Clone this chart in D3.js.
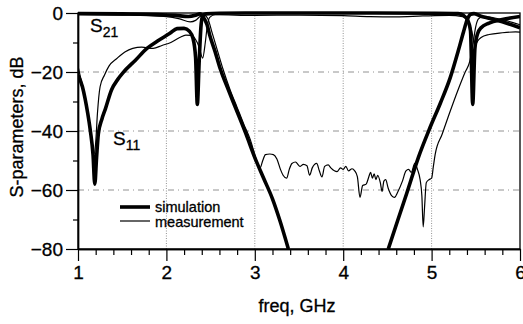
<!DOCTYPE html>
<html><head><meta charset="utf-8">
<script src="https://cdn.jsdelivr.net/npm/d3@7"></script>
<style>body{margin:0;background:#fff}text{font-family:"Liberation Sans",Arial,sans-serif;fill:#000;stroke:#000;stroke-width:0.3px}</style>
</head><body><svg id="c" width="523" height="324"></svg>
<script>
const xTicks=[1,2,3,4,5,6];
const xMinor=[1.2,1.4,1.6,1.8,2.2,2.4,2.6,2.8,3.2,3.4,3.6,3.8,4.2,4.4,4.6,4.8,5.2,5.4,5.6,5.8];
const yTicks=[0,-20,-40,-60,-80];
const yMinor=[-10,-30,-50,-70];
const xGrid=[2,3,4,5];
const yGrid=[-20,-40,-60];

const s11Sim=[[1.0,-21],[1.05,-25],[1.08,-29],[1.11,-34],[1.14,-40],[1.17,-48],[1.19,-58],[1.21,-49],[1.23,-41],[1.27,-36],[1.31,-32.5],[1.38,-26],[1.45,-22.5],[1.51,-20.2],[1.65,-16],[1.78,-12],[1.9,-9.5],[2.04,-6.9],[2.12,-5.3],[2.2,-5.2],[2.26,-6.2],[2.3,-8.5],[2.33,-15],[2.35,-31],[2.37,-17],[2.39,-5],[2.41,-1],[2.45,-0.3],[2.6,-0.1],[3.0,0],[4.0,0],[5.0,-0.1],[5.3,-0.2],[5.36,-0.8],[5.41,-2.5],[5.44,-6],[5.465,-31],[5.49,-12],[5.52,-7],[5.56,-5],[5.65,-3.4],[5.8,-2.2],[6.0,-1.2]];

const s11Meas=[[1.0,-18],[1.03,-22],[1.07,-27],[1.11,-34],[1.15,-42],[1.18,-48],[1.2,-44],[1.22,-34],[1.25,-25],[1.30,-21],[1.35,-18],[1.44,-15.4],[1.53,-13.2],[1.62,-12],[1.72,-11.6],[1.85,-12],[1.95,-11],[2.05,-10],[2.15,-8.3],[2.22,-7.5],[2.28,-7.6],[2.33,-9],[2.37,-11.5],[2.41,-15.3],[2.44,-10],[2.46,-5],[2.49,-1.5],[2.55,-0.6],[3.0,-0.8],[3.5,-0.7],[4.0,-0.9],[4.3,-1.2],[4.6,-1.3],[4.9,-1],[5.2,-0.8],[5.35,-1.2],[5.42,-3],[5.46,-7],[5.49,-11],[5.52,-9.5],[5.56,-8.3],[5.65,-7.3],[5.8,-6.7],[5.95,-6.4],[6.0,-6.5]];

const s21Sim=[[1.0,-0.2],[1.5,-0.3],[1.9,-0.5],[2.1,-0.8],[2.25,-1.2],[2.33,-0.8],[2.38,-0.3],[2.42,-1.5],[2.46,-4],[2.49,-7.5],[2.55,-13],[2.61,-19],[2.7,-26],[2.78,-32],[2.9,-41],[3.0,-49],[3.1,-56],[3.2,-63],[3.28,-70],[3.38,-80],[3.39,null],[4.50,null],[4.51,-80],[4.62,-70],[4.72,-61],[4.85,-49],[4.98,-39],[5.1,-30.5],[5.21,-22],[5.3,-13],[5.36,-6.5],[5.40,-2.5],[5.44,-0.5],[5.48,-0.2],[5.55,-1],[5.65,-1.8],[5.8,-3],[6.0,-5]];

const s21Meas=[[1.0,-0.5],[1.5,-0.7],[1.8,-0.9],[2.0,-1.2],[2.15,-2],[2.27,-3],[2.33,-2.5],[2.38,-1.2],[2.43,-0.8],[2.47,-2],[2.52,-7],[2.58,-13],[2.64,-19],[2.72,-26],[2.80,-32],[2.88,-38],[2.95,-43],[3.02,-50],[3.06,-52.5],[3.09,-50],[3.12,-48],[3.17,-47.8],[3.21,-48],[3.25,-49.5],[3.29,-53],[3.32,-55],[3.36,-56],[3.39,-53],[3.42,-51],[3.46,-50.5],[3.51,-52],[3.55,-51.3],[3.59,-51.8],[3.62,-55],[3.65,-52.5],[3.70,-51],[3.73,-53.5],[3.76,-55.6],[3.79,-52],[3.83,-51.5],[3.86,-52.5],[3.90,-53.5],[3.93,-53.8],[3.97,-52.5],[4.0,-53],[4.03,-52],[4.06,-53.5],[4.10,-52.8],[4.13,-53.5],[4.16,-55.5],[4.19,-62.5],[4.22,-58.5],[4.26,-58],[4.29,-55.5],[4.31,-54],[4.33,-56],[4.35,-54.5],[4.37,-56.5],[4.39,-55],[4.42,-57.5],[4.44,-60.5],[4.46,-57],[4.48,-56.5],[4.51,-59.5],[4.55,-62],[4.58,-62.5],[4.62,-60.5],[4.67,-57],[4.71,-53.5],[4.74,-53],[4.77,-54],[4.81,-51],[4.84,-53],[4.87,-56.5],[4.89,-62],[4.905,-72.5],[4.92,-66],[4.94,-57.5],[4.97,-56.5],[5.0,-56],[5.02,-52],[5.04,-48],[5.12,-41],[5.19,-35],[5.30,-26],[5.38,-20],[5.43,-16.6],[5.47,-10],[5.50,-4.5],[5.53,-2],[5.58,-1.2],[5.7,-1.6],[5.85,-2.6],[6.0,-4]];

const L=78,R=520,T=13,B=249;
const svg=d3.select("#c");
const x=d3.scaleLinear().domain([1,6]).range([L,R]);
const y=d3.scaleLinear().domain([-80,0]).range([B,T]);

// grid
const g=svg.append("g");
g.selectAll(".hg").data(yGrid).join("line").attr("x1",L).attr("x2",R).attr("y1",d=>y(d)).attr("y2",d=>y(d))
 .attr("stroke","#777").attr("stroke-width",0.8).attr("stroke-dasharray","6,4,1,4");
g.selectAll(".vg").data(xGrid).join("line").attr("y1",T).attr("y2",B).attr("x1",d=>x(d)).attr("x2",d=>x(d))
 .attr("stroke","#777").attr("stroke-width",0.8).attr("stroke-dasharray","1,1.5");

// axes
const fs="19px";
const ax=svg.append("g").attr("transform",`translate(0,${B})`).call(d3.axisBottom(x).tickValues(xTicks).tickSize(12).tickSizeOuter(0).tickPadding(5).tickFormat(d3.format("d")));
const axm=svg.append("g").attr("transform",`translate(0,${B})`).call(d3.axisBottom(x).tickValues(xMinor).tickSize(6).tickSizeOuter(0).tickFormat(""));
const ay=svg.append("g").attr("transform",`translate(${L},0)`).call(d3.axisLeft(y).tickValues(yTicks).tickSize(12).tickSizeOuter(0).tickPadding(3).tickFormat(d3.format("d")));
const aym=svg.append("g").attr("transform",`translate(${L},0)`).call(d3.axisLeft(y).tickValues(yMinor).tickSize(5).tickSizeOuter(0).tickFormat(""));
[ax,axm,ay,aym].forEach(a=>{a.selectAll("line").attr("stroke","#000").attr("stroke-width",1.2);a.select(".domain").attr("stroke","#000").attr("stroke-width",1.4);
 a.selectAll("text").style("font-family",'"Liberation Sans",Arial,sans-serif').style("font-size",fs).attr("fill","#000");});

// frame
svg.append("rect").attr("x",L).attr("y",T).attr("width",R-L).attr("height",B-T).attr("fill","none").attr("stroke","#000").attr("stroke-width",1.3);

// curves
svg.append("clipPath").attr("id","clp").append("rect").attr("x",L).attr("y",T-3).attr("width",R-L).attr("height",B-T+3);
const line=d3.line().defined(d=>d[1]!=null).x(d=>x(d[0])).y(d=>y(d[1])).curve(d3.curveMonotoneX);
const cg=svg.append("g").attr("clip-path","url(#clp)");
[[s21Meas,1.2],[s11Meas,1.2],[s21Sim,3.6],[s11Sim,3.6]].forEach(([d,w])=>{
 cg.append("path").datum(d).attr("d",line).attr("fill","none").attr("stroke","#000").attr("stroke-width",w).attr("stroke-linejoin","round");
});

// annotations
const t1=svg.append("text").attr("x",90).attr("y",32).style("font-size","19px");
t1.append("tspan").text("S");t1.append("tspan").attr("dy",5).style("font-size","14px").text("21");
const t2=svg.append("text").attr("x",113).attr("y",145).style("font-size","19px");
t2.append("tspan").text("S");t2.append("tspan").attr("dy",5).style("font-size","14px").text("11");

// legend
svg.append("line").attr("x1",120).attr("x2",150).attr("y1",207).attr("y2",207).attr("stroke","#000").attr("stroke-width",3.6);
svg.append("line").attr("x1",120).attr("x2",150).attr("y1",221).attr("y2",221).attr("stroke","#000").attr("stroke-width",1.2);
svg.append("text").attr("x",155).attr("y",211.5).style("font-size","14.5px").text("simulation");
svg.append("text").attr("x",155).attr("y",226.5).style("font-size","14.5px").text("measurement");

// axis titles
svg.append("text").attr("x",297).attr("y",312).attr("text-anchor","middle").style("font-size","18px").text("freq, GHz");
svg.append("text").attr("transform","translate(23,127) rotate(-90)").attr("text-anchor","middle").style("font-size","18px").text("S-parameters, dB");
</script></body></html>
